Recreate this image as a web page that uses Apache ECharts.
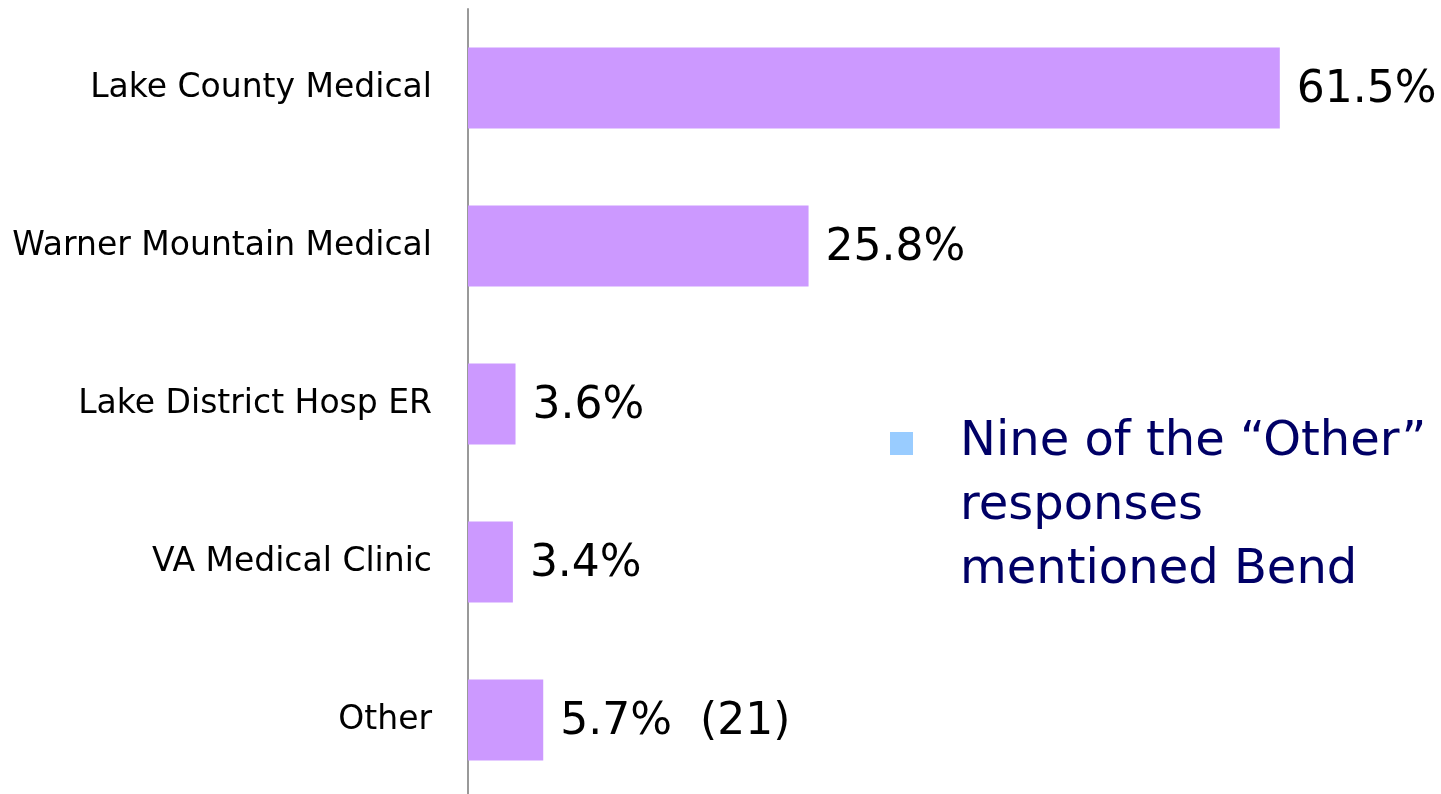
<!DOCTYPE html>
<html>
<head>
<meta charset="utf-8">
<script src="https://cdn.jsdelivr.net/npm/echarts@6/dist/echarts.min.js"></script>
<style>
  html, body { margin: 0; padding: 0; background: #fff; }
  #chart { width: 1441px; height: 794px; }
</style>
</head>
<body>
<div id="chart"></div>
<script>
// data
const categories = ['Lake County Medical', 'Warner Mountain Medical', 'Lake District Hosp ER', 'VA Medical Clinic', 'Other']
const percents = [61.5, 25.8, 3.6, 3.4, 5.7]
const counts = ['', '', '', '', '(21)']
const noteLines = ['Nine of the \u201cOther\u201d', 'responses', 'mentioned Bend']

const chart = echarts.init(document.getElementById('chart'))

const fontFam = '"DejaVu Sans", sans-serif'

chart.setOption({
  backgroundColor: '#fff',
  animation: false,
  grid: { left: 468, top: 9, width: 924, height: 790, outerBoundsMode: 'none' },
  xAxis: {
    type: 'value',
    min: 0,
    max: 70,
    show: false
  },
  yAxis: {
    type: 'category',
    data: categories,
    inverse: true,
    axisLine: { show: true, lineStyle: { color: '#999', width: 2 } },
    axisTick: { show: false },
    axisLabel: { color: '#000', fontSize: 33, fontFamily: fontFam, margin: 36, padding: [5, 0, 0, 0] }
  },
  series: [{
    type: 'bar',
    data: percents,
    barWidth: 81,
    itemStyle: { color: '#CC99FF' },
    label: {
      show: true,
      position: 'right',
      distance: 17,
      offset: [0, 3],
      color: '#000',
      fontSize: 44,
      fontFamily: fontFam,
      formatter: (p) => p.value.toFixed(1) + '%' + (counts[p.dataIndex] ? '  ' + counts[p.dataIndex] : '')
    }
  }],
  graphic: [
    { type: 'rect', left: 890, top: 432, shape: { width: 23, height: 23 }, style: { fill: '#99CCFF' } },
    {
      type: 'text', left: 960, top: 411,
      style: {
        text: noteLines.join('\n'),
        fill: '#000066',
        font: '48px ' + fontFam,
        lineHeight: 64
      }
    }
  ]
})
</script>
</body>
</html>
